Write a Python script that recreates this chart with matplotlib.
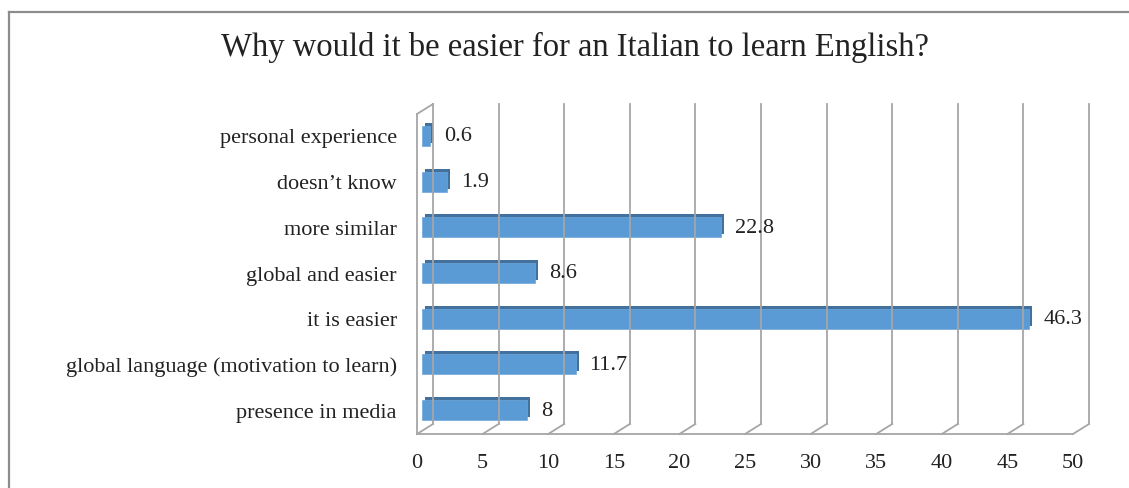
import matplotlib.pyplot as plt
import numpy as np
from matplotlib.transforms import ScaledTranslation

categories = ["presence in media", "global language (motivation to learn)", "it is easier",
              "global and easier", "more similar", "doesn’t know", "personal experience"]
values = [8, 11.7, 46.3, 8.6, 22.8, 1.9, 0.6]
ticks = list(range(0, 55, 5))

plt.rcParams['font.family'] = ['Liberation Serif', 'DejaVu Serif']

fig = plt.figure(figsize=(11.29, 4.89), dpi=100)
W, H = 1129, 489
# front plane of the 3d box, in pixels
left, right, bottom, top = 417, 1073, 435, 115
ax = fig.add_axes([left / W, 1 - bottom / H, (right - left) / W, (bottom - top) / H])
ax.set_xlim(0, 50)
ax.set_ylim(-0.5, len(categories) - 0.5)
ax.axis('off')

# depth offset in data units (16 px right, 10 px up)
sx = (right - left) / 50
sy = (bottom - top) / len(categories)
DX, DY = 16 / sx, 10 / sy
grid = dict(color='#a6a6a6', lw=1.3, clip_on=False, solid_capstyle='projecting')

y0, y1 = -0.5, len(categories) - 0.5
for t in ticks:
    ax.plot([t + DX, t + DX], [y0 + DY, y1 + DY], **grid)
    ax.plot([t, t + DX], [y0, y0 + DY], **grid)
ax.plot([0, 50], [y0, y0], **grid)
ax.plot([0, 0], [y0, y1], **grid)
ax.plot([0, DX], [y1, y1 + DY], **grid)

# bars: dark extruded back, light front face
def off(px, py):
    return ax.transData + ScaledTranslation(px / 100, py / 100, fig.dpi_scale_trans)

y = np.arange(len(categories))
ax.barh(y, values, left=0, height=0.44, color='#41719c', transform=off(8, 4), clip_on=False)
ax.barh(y, values, left=0, height=0.44, color='#5b9bd5', edgecolor='#6fa8dc',
        lw=0.5, transform=off(5, 1), clip_on=False)

fs = 16
for yi, v in zip(y, values):
    ax.text(v, yi, f"{v:g}", transform=off(19, 1), ha='left', va='center',
            fontsize=fs, color='#222222')

for yi, c in zip(y, categories):
    ax.text(0, yi, c, transform=off(-20, -1), ha='right', va='center',
            fontsize=fs, color='#222222')

for t in ticks:
    ax.text(t, y0, str(t), transform=off(0, -29), ha='center', va='center',
            fontsize=fs, color='#222222')

fig.text(575 / W, 1 - 47 / H, "Why would it be easier for an Italian to learn English?",
         ha='center', va='center', fontsize=23.5, color='#222222')

# outer chart border (left and top visible)
fig.add_artist(plt.Line2D([9 / W, 9 / W], [0, 1 - 13 / H], transform=fig.transFigure,
                          color='#8c8c8c', lw=1.6))
fig.add_artist(plt.Line2D([9 / W, 1], [1 - 13 / H, 1 - 13 / H], transform=fig.transFigure,
                          color='#8c8c8c', lw=1.6))

fig.savefig("out.png", dpi=100)
